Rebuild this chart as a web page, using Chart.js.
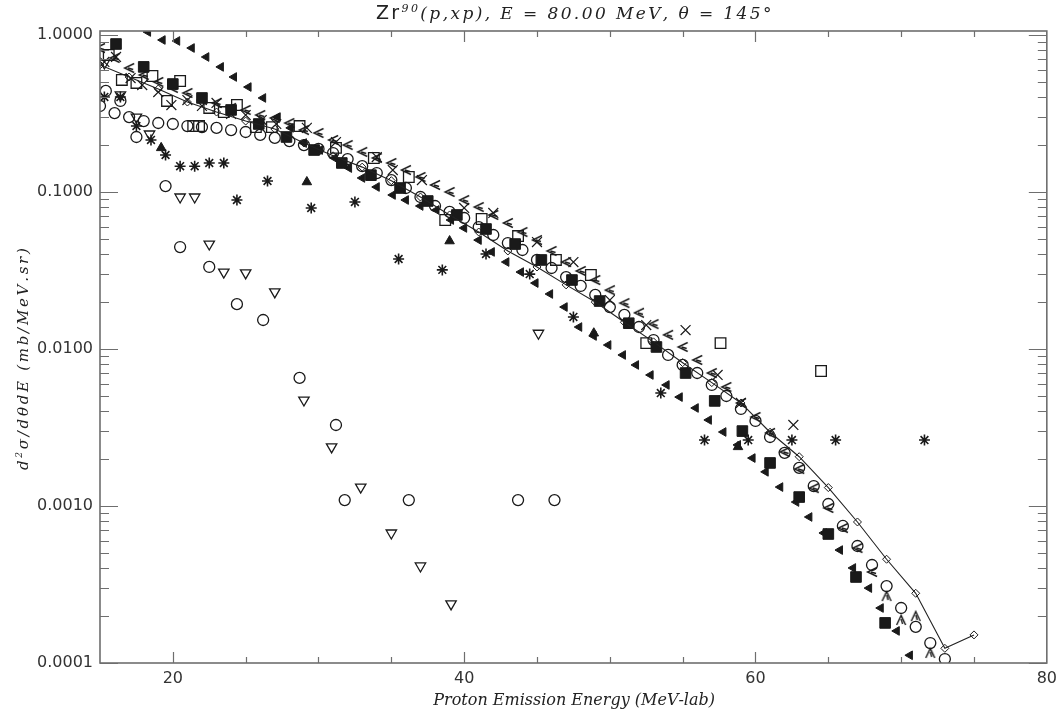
<!DOCTYPE html>
<html>
<head>
<meta charset="utf-8">
<script src="https://cdn.jsdelivr.net/npm/chart.js@4.4.1/dist/chart.umd.min.js"></script>
<style>
  html, body { margin: 0; padding: 0; background: #fff; }
</style>
</head>
<body>
<canvas id="spectrum" width="1063" height="715"></canvas>
<script>
// axis ticks
const xTickValues = [20, 40, 60, 80];
const yTickValues = [0.0001, 0.001, 0.01, 0.1, 1];

// model calculation (solid line with diamonds)
const calcE  = [15, 17, 19, 21, 23, 25, 27, 29, 31, 33, 35, 37, 39, 41, 43, 45, 47, 49, 51, 53, 55, 57, 59, 61, 63, 65, 67, 69, 71, 73, 75];
const calcXS = [0.644, 0.540, 0.453, 0.374, 0.323, 0.283, 0.252, 0.205, 0.170, 0.144, 0.118, 0.0929, 0.0714, 0.0556, 0.0421, 0.0333, 0.0256, 0.0199, 0.0148, 0.0111, 0.00818, 0.00611, 0.00453, 0.00295, 0.00206, 0.00131, 0.000791, 0.000458, 0.000278, 0.000124, 0.000151];

// filled squares
const sqE  = [16.1, 18.0, 20.0, 22.0, 24.0, 25.9, 27.8, 29.7, 31.6, 33.6, 35.6, 37.5, 39.5, 41.5, 43.5, 45.3, 47.4, 49.3, 51.3, 53.2, 55.2, 57.2, 59.1, 61.0, 63.0, 65.0, 66.9, 68.9];
const sqXS = [0.876, 0.626, 0.487, 0.397, 0.333, 0.271, 0.224, 0.185, 0.153, 0.128, 0.106, 0.0876, 0.0714, 0.0581, 0.0466, 0.0369, 0.0275, 0.0202, 0.0146, 0.0103, 0.00703, 0.00467, 0.00300, 0.00188, 0.00114, 0.000663, 0.000353, 0.000180];

// open circles
const circE  = [15, 16, 17, 18, 19, 20, 21, 22, 23, 24, 25, 26, 27, 28, 29, 30, 31, 32, 33, 34, 35, 36, 37, 38, 39, 40, 41, 42, 43, 44, 45, 46, 47, 48, 49, 50, 51, 52, 53, 54, 55, 56, 57, 58, 59, 60, 61, 62, 63, 64, 65, 66, 67, 68, 69, 70, 71, 72, 73];
const circXS = [0.353, 0.318, 0.300, 0.283, 0.275, 0.271, 0.263, 0.259, 0.256, 0.248, 0.241, 0.231, 0.221, 0.211, 0.199, 0.188, 0.177, 0.162, 0.146, 0.132, 0.119, 0.106, 0.0929, 0.0814, 0.0746, 0.0683, 0.0598, 0.0532, 0.0473, 0.0427, 0.0369, 0.0328, 0.0287, 0.0252, 0.0221, 0.0185, 0.0165, 0.0138, 0.0114, 0.00916, 0.00791, 0.00703, 0.00590, 0.00502, 0.00415, 0.00348, 0.00275, 0.00218, 0.00175, 0.00134, 0.00103, 0.000746, 0.000556, 0.000421, 0.000309, 0.000224, 0.000170, 0.000134, 0.000106];

// open circles, steep set
const lowCircE  = [15.4, 16.4, 17.5, 19.5, 20.5, 22.5, 24.4, 26.2, 28.7, 31.2, 31.8, 36.2, 43.7, 46.2];
const lowCircXS = [0.440, 0.380, 0.224, 0.109, 0.0446, 0.0333, 0.0193, 0.0153, 0.00654, 0.00328, 0.00109, 0.00109, 0.00109, 0.00109];

// open down triangles
const dTriE  = [15.3, 16.4, 17.5, 18.4, 20.5, 21.5, 22.5, 23.5, 25.0, 27.0, 29.0, 30.9, 32.9, 35.0, 37.0, 39.1, 45.1];
const dTriXS = [0.663, 0.415, 0.300, 0.234, 0.0929, 0.0929, 0.0466, 0.0309, 0.0305, 0.0231, 0.00473, 0.00238, 0.00132, 0.000673, 0.000415, 0.000238, 0.0126];

// asterisks
const starE  = [15.3, 16.4, 17.5, 18.5, 19.5, 20.5, 21.5, 22.5, 23.5, 24.4, 26.5, 29.5, 32.5, 35.5, 38.5, 41.5, 44.5, 47.5, 53.5, 56.5, 59.5, 62.5, 65.5, 71.6];
const starXS = [0.403, 0.403, 0.263, 0.2145, 0.172, 0.146, 0.146, 0.153, 0.153, 0.0889, 0.1175, 0.0791, 0.0864, 0.0374, 0.0319, 0.0403, 0.0300, 0.0160, 0.00524, 0.00263, 0.00263, 0.00263, 0.00263, 0.00263];

// filled up triangles
const uTriE  = [19.2, 29.2, 39.0, 48.9, 58.8];
const uTriXS = [0.191, 0.1158, 0.0487, 0.0126, 0.00238];

// filled left triangles
const lTriE  = [18.3, 19.3, 20.3, 21.3, 22.3, 23.3, 24.2, 25.2, 26.2, 27.2, 28.1, 29.0, 30.1, 31.1, 32.1, 33.0, 34.0, 35.1, 36.0, 37.0, 38.1, 39.1, 40.0, 41.0, 41.9, 42.9, 43.9, 44.9, 45.9, 46.9, 47.9, 48.9, 49.9, 50.9, 51.8, 52.8, 53.9, 54.8, 55.9, 56.8, 57.8, 58.8, 59.8, 60.7, 61.7, 62.8, 63.7, 64.7, 65.8, 66.7, 67.8, 68.6, 69.7, 70.6];
const lTriXS = [1.045, 0.929, 0.916, 0.826, 0.724, 0.626, 0.540, 0.466, 0.397, 0.300, 0.256, 0.205, 0.185, 0.1646, 0.142, 0.1228, 0.1076, 0.0957, 0.0889, 0.0814, 0.0768, 0.0663, 0.0590, 0.0494, 0.0415, 0.0358, 0.0309, 0.0263, 0.0224, 0.0185, 0.0138, 0.0121, 0.0106, 0.00916, 0.00791, 0.00683, 0.00590, 0.00494, 0.00421, 0.00353, 0.00296, 0.00245, 0.00202, 0.00165, 0.00132, 0.00106, 0.000851, 0.000673, 0.000524, 0.000403, 0.000300, 0.000224, 0.000160, 0.000112];

// open chevrons
const chevE  = [15, 16, 17, 18, 19, 20, 21, 22, 23, 24, 25, 26, 27, 28, 29, 30, 31, 32, 33, 34, 35, 36, 37, 38, 39, 40, 41, 42, 43, 44, 45, 46, 47, 48, 49, 50, 51, 52, 53, 54, 55, 56, 57, 58, 59, 60, 61, 62, 63, 64, 65, 66, 67, 68];
const chevXS = [0.826, 0.714, 0.616, 0.556, 0.502, 0.460, 0.427, 0.385, 0.369, 0.343, 0.333, 0.309, 0.296, 0.275, 0.248, 0.2375, 0.2145, 0.199, 0.180, 0.1646, 0.153, 0.138, 0.1246, 0.1108, 0.100, 0.0889, 0.0802, 0.0714, 0.0635, 0.0556, 0.0494, 0.0421, 0.0358, 0.0314, 0.0275, 0.0237, 0.0196, 0.0170, 0.0144, 0.0123, 0.0103, 0.00851, 0.00703, 0.00573, 0.00453, 0.00369, 0.00292, 0.00221, 0.00172, 0.00130, 0.000971, 0.000724, 0.000540, 0.000380];

// up chevrons
const upChevE  = [69.0, 70.0, 71.0, 72.0];
const upChevXS = [0.000267, 0.000188, 0.000199, 0.000116];

// open squares
const oSqE  = [15.6, 16.5, 17.5, 18.6, 19.6, 20.5, 21.4, 21.8, 22.5, 23.5, 24.4, 25.7, 26.8, 28.7, 31.2, 33.8, 36.2, 38.7, 41.2, 43.7, 46.3, 48.7, 52.5, 57.6, 64.5];
const oSqXS = [0.746, 0.517, 0.495, 0.548, 0.380, 0.509, 0.263, 0.263, 0.343, 0.323, 0.358, 0.259, 0.259, 0.263, 0.191, 0.1646, 0.1246, 0.0663, 0.0673, 0.0524, 0.0369, 0.0296, 0.0109, 0.0109, 0.00724];

// crosses
const crossE  = [15.3, 16.1, 17.1, 17.9, 19.0, 19.9, 21.0, 22.0, 23.0, 24.0, 25.0, 26.1, 27.1, 29.2, 31.2, 34.0, 35.1, 37.1, 40.0, 42.0, 45.0, 47.5, 50.0, 52.5, 55.2, 57.4, 59.0, 62.6];
const crossXS = [0.673, 0.724, 0.532, 0.480, 0.433, 0.358, 0.385, 0.353, 0.369, 0.314, 0.309, 0.287, 0.271, 0.256, 0.208, 0.167, 0.138, 0.1192, 0.0791, 0.0735, 0.0480, 0.0358, 0.0205, 0.0142, 0.0132, 0.00683, 0.00453, 0.00328];

const INK = '#1a1a1a';
const NONE = 'rgba(0,0,0,0)';

function pts(xs, ys) {
  return xs.map((x, i) => ({ x: x, y: ys[i] }));
}

// "<" marker
function chevronCanvas() {
  const c = document.createElement('canvas');
  c.width = 14; c.height = 14;
  const g = c.getContext('2d');
  g.strokeStyle = INK;
  g.lineWidth = 1.4;
  g.beginPath();
  g.moveTo(12, 2.5); g.lineTo(2.5, 7); g.lineTo(12, 11.5);
  g.moveTo(6, 7); g.lineTo(11, 8.5);
  g.stroke();
  return c;
}

// "A"-like marker
function peakCanvas() {
  const c = document.createElement('canvas');
  c.width = 14; c.height = 14;
  const g = c.getContext('2d');
  g.strokeStyle = INK;
  g.lineWidth = 1.4;
  g.beginPath();
  g.moveTo(2.5, 12); g.lineTo(7, 2.5); g.lineTo(11.5, 12);
  g.moveTo(7, 6); g.lineTo(8.5, 11);
  g.stroke();
  return c;
}

function series(xs, ys, style, extra) {
  return Object.assign({
    data: pts(xs, ys),
    pointStyle: style,
    pointRadius: 5,
    pointBorderColor: INK,
    pointBackgroundColor: NONE,
    pointBorderWidth: 1.3,
    showLine: false
  }, extra || {});
}

const datasets = [
  series(calcE, calcXS, 'rectRot', {
    showLine: true, borderColor: '#222', borderWidth: 1.1, pointRadius: 4, pointBorderWidth: 1
  }),
  series(sqE, sqXS, 'rect', { pointRadius: 7.5, pointBackgroundColor: INK, pointBorderWidth: 1 }),
  series(oSqE, oSqXS, 'rect', { pointRadius: 7.5 }),
  series(circE, circXS, 'circle', { pointRadius: 5.5 }),
  series(lowCircE, lowCircXS, 'circle', { pointRadius: 5.5 }),
  series(dTriE, dTriXS, 'triangle', { pointRadius: 6, rotation: 180 }),
  series(starE, starXS, 'star', { pointRadius: 5.5, pointBorderWidth: 1.6 }),
  series(uTriE, uTriXS, 'triangle', { pointRadius: 5.5, pointBackgroundColor: INK, pointBorderWidth: 1 }),
  series(lTriE, lTriXS, 'triangle', { pointRadius: 5, rotation: 270, pointBackgroundColor: INK, pointBorderWidth: 1 }),
  series(crossE, crossXS, 'crossRot', { pointRadius: 7, pointBorderWidth: 1.2 }),
  series(chevE, chevXS, chevronCanvas()),
  series(upChevE, upChevXS, peakCanvas())
];

// runs of text with optional raise, spread to a given width
function drawRuns(ctx, runs, cx, baseline, targetWidth) {
  let natural = 0, chars = 0;
  runs.forEach(r => {
    ctx.font = r.font;
    r.w = ctx.measureText(r.text).width;
    natural += r.w;
    chars += [...r.text].length;
  });
  const gap = targetWidth ? Math.max(0, (targetWidth - natural) / chars) : 0;
  let x = cx - (natural + gap * chars) / 2;
  runs.forEach(r => {
    ctx.font = r.font;
    for (const ch of r.text) {
      ctx.fillText(ch, x, baseline + (r.dy || 0));
      x += ctx.measureText(ch).width + gap;
    }
  });
}

const serifItalic = '"DejaVu Serif", "Liberation Serif", serif';

const idlFrame = {
  id: 'idlFrame',
  afterDatasetsDraw(chart) {
    const { ctx, chartArea: a, scales: { x, y } } = chart;
    ctx.save();
    ctx.strokeStyle = '#6e6e6e';
    ctx.lineWidth = 1.6;
    ctx.strokeRect(a.left, a.top, a.right - a.left, a.bottom - a.top);

    ctx.lineWidth = 1.2;
    ctx.beginPath();
    // energy ticks on bottom and top, pointing inward
    for (let e = 20; e < 80; e += 5) {
      const px = Math.round(x.getPixelForValue(e)) + 0.5;
      const len = e % 20 === 0 ? 11 : 6;
      ctx.moveTo(px, a.bottom); ctx.lineTo(px, a.bottom - len);
      ctx.moveTo(px, a.top); ctx.lineTo(px, a.top + len);
    }
    // decade and minor ticks on left and right
    for (let d = -4; d <= 0; d++) {
      for (let m = 1; m <= 9; m++) {
        const v = m * Math.pow(10, d);
        if (v < y.min || v > y.max) continue;
        const py = Math.round(y.getPixelForValue(v)) + 0.5;
        const len = m === 1 ? 18 : 9;
        ctx.moveTo(a.left, py); ctx.lineTo(a.left + len, py);
        ctx.moveTo(a.right, py); ctx.lineTo(a.right - len, py);
      }
    }
    ctx.stroke();

    ctx.fillStyle = '#222';
    ctx.textBaseline = 'alphabetic';
    const cx = (a.left + a.right) / 2;

    // plot title
    drawRuns(ctx, [
      { text: 'Zr', font: '19px "DejaVu Sans", sans-serif' },
      { text: '90', font: 'italic 11px ' + serifItalic, dy: -7 },
      { text: '(p,xp), E = 80.00 MeV, θ = 145°', font: 'italic 17px ' + serifItalic }
    ], cx, 19, 395);

    // energy axis title
    drawRuns(ctx, [
      { text: 'Proton Emission Energy (MeV-lab)', font: 'italic 16px ' + serifItalic }
    ], cx, 705, 270);

    // cross-section axis title
    ctx.save();
    ctx.translate(28, 359);
    ctx.rotate(-Math.PI / 2);
    drawRuns(ctx, [
      { text: 'd', font: 'italic 15px ' + serifItalic },
      { text: '2', font: 'italic 9px ' + serifItalic, dy: -6 },
      { text: 'σ/dθdE (mb/MeV.sr)', font: 'italic 15px ' + serifItalic }
    ], 0, 0, 222);
    ctx.restore();

    ctx.restore();
  }
};

const tickFont = { family: '"DejaVu Sans", sans-serif', size: 16 };

new Chart(document.getElementById('spectrum'), {
  type: 'scatter',
  data: { datasets: datasets },
  options: {
    responsive: false,
    animation: false,
    devicePixelRatio: 1,
    layout: { padding: { left: 0, right: 13, top: 31, bottom: 0 } },
    plugins: { legend: { display: false }, tooltip: { enabled: false } },
    scales: {
      x: {
        type: 'linear',
        min: 15,
        max: 80,
        afterBuildTicks: s => { s.ticks = xTickValues.map(v => ({ value: v })); },
        afterFit: s => { s.height = 52; },
        grid: { display: false, drawTicks: false },
        border: { display: false },
        ticks: { color: '#333', font: tickFont, padding: 6, maxRotation: 0, autoSkip: false }
      },
      y: {
        type: 'logarithmic',
        min: 0.0001,
        max: 1.06,
        afterBuildTicks: s => { s.ticks = yTickValues.map(v => ({ value: v })); },
        afterFit: s => { s.width = 100; },
        grid: { display: false, drawTicks: false },
        border: { display: false },
        ticks: {
          color: '#333', font: tickFont, padding: 7, autoSkip: false,
          callback: v => Number(v).toFixed(4)
        }
      }
    }
  },
  plugins: [idlFrame]
});
</script>
</body>
</html>
